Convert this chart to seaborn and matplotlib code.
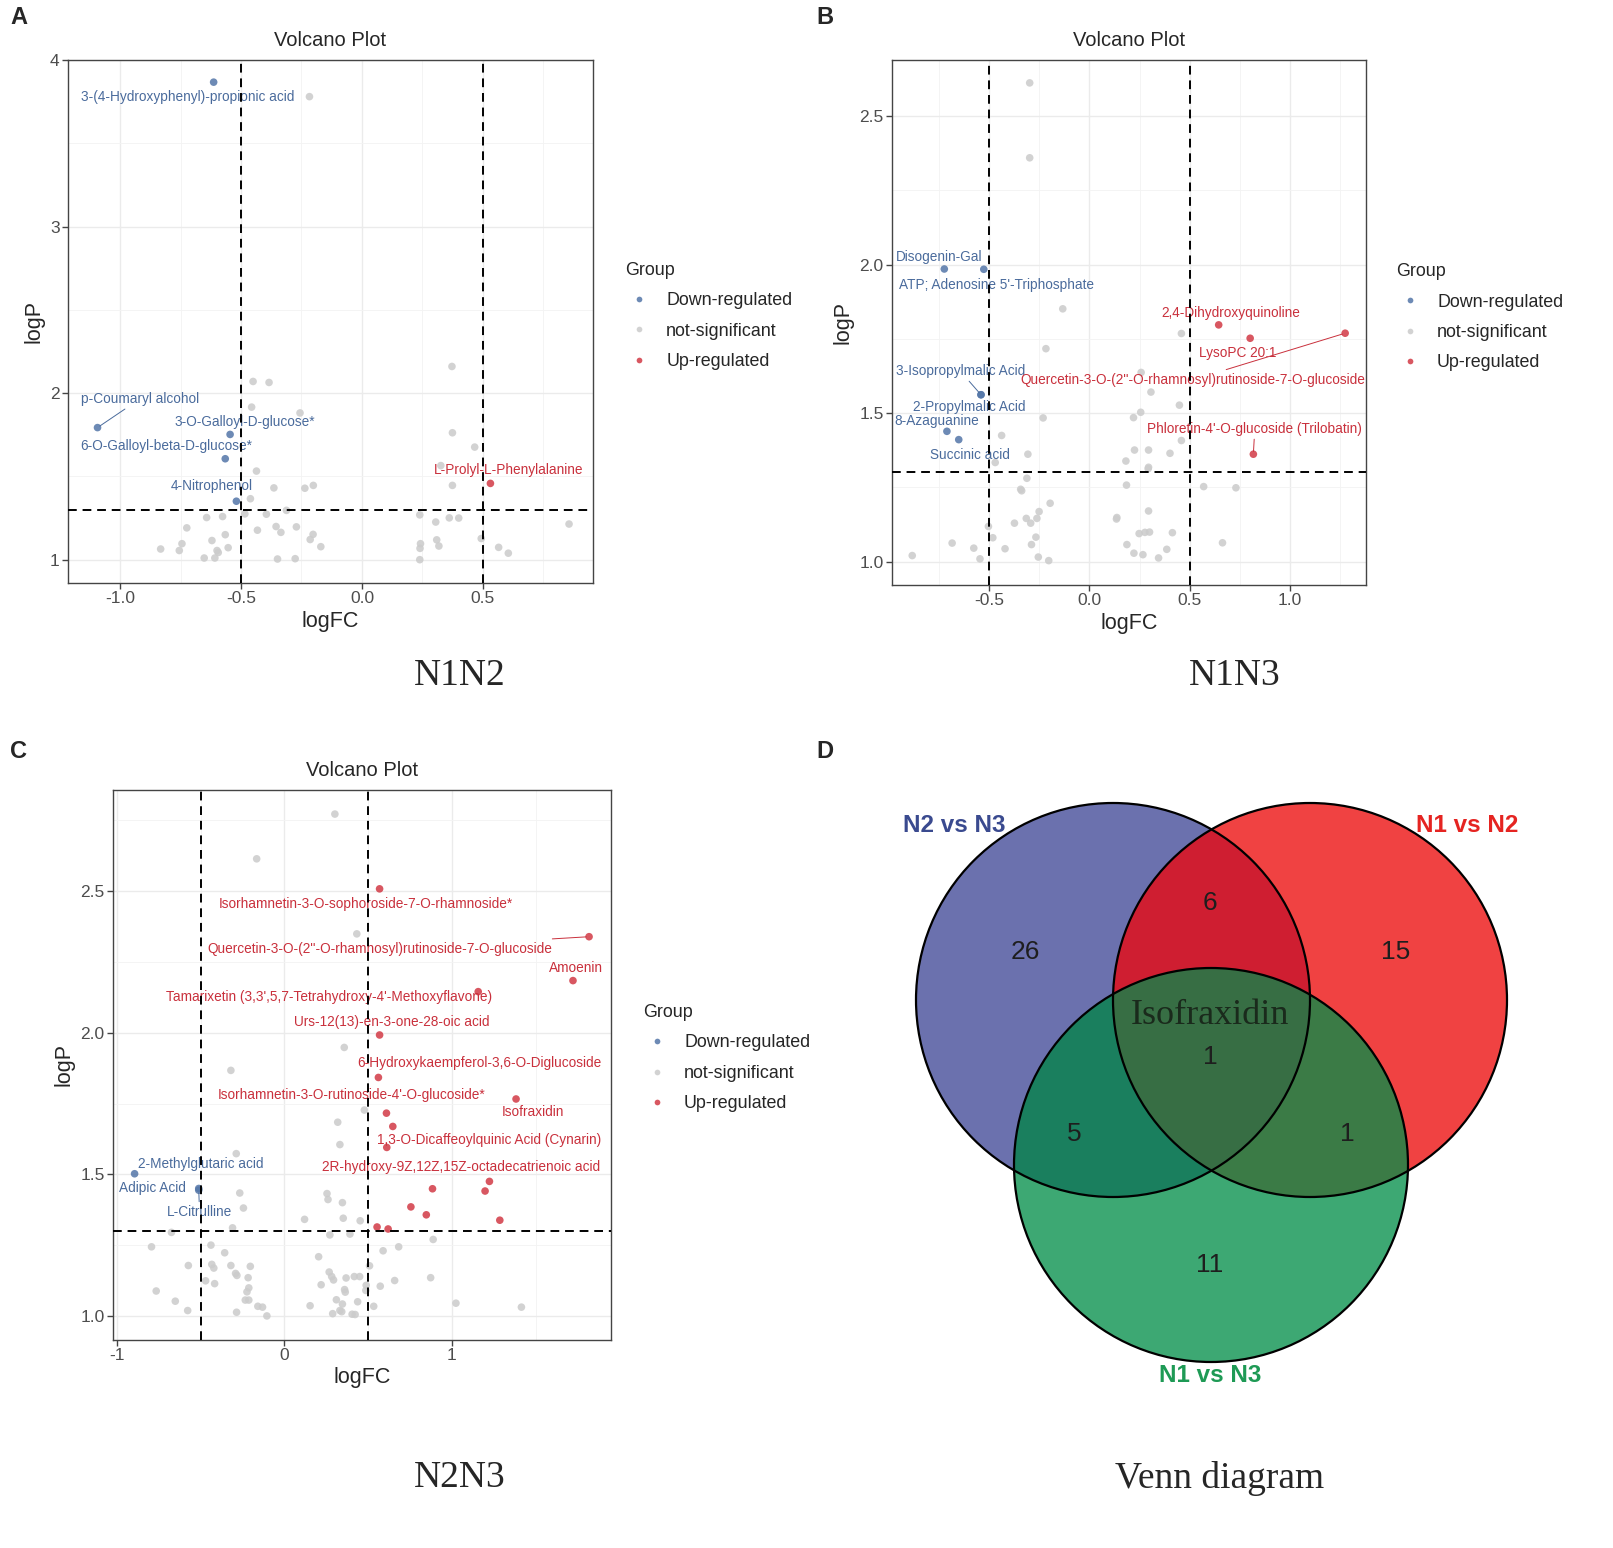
import numpy as np
import pandas as pd
import matplotlib
matplotlib.use("Agg")
import matplotlib.pyplot as plt
from matplotlib.patches import Circle
from matplotlib.colors import to_rgba
from matplotlib.ticker import AutoMinorLocator
import seaborn as sns

######################
## Data
######################

# A: N1 vs N2
a_down_names = ["3-(4-Hydroxyphenyl)-propionic acid", "p-Coumaryl alcohol", "3-O-Galloyl-D-glucose*",
                "6-O-Galloyl-beta-D-glucose*", "4-Nitrophenol"]
a_down_fc = [-0.613, -1.093, -0.545, -0.565, -0.519]
a_down_p = [3.867, 1.793, 1.752, 1.606, 1.351]
a_up_names = ["L-Prolyl-L-Phenylalanine"]
a_up_fc = [0.531]
a_up_p = [1.458]
a_ns_fc = [-0.217, 0.372, -0.450, -0.384, -0.456, -0.256, 0.374, 0.466, 0.326, -0.436, -0.364, -0.236,
           -0.201, 0.374, -0.461, -0.484, -0.395, -0.312, -0.642, -0.576, 0.239, 0.305, 0.361, 0.400,
           0.856, -0.724, -0.432, -0.355, -0.335, -0.271, -0.202, -0.565, -0.620, -0.744, -0.832, -0.755,
           -0.599, -0.553, -0.594, -0.652, -0.608, -0.349, -0.276, -0.214, -0.170, 0.242, 0.240, 0.239,
           0.309, 0.318, 0.493, 0.565, 0.605]
a_ns_p = [3.780, 2.160, 2.070, 2.064, 1.916, 1.881, 1.762, 1.676, 1.565, 1.532, 1.431, 1.429,
          1.446, 1.446, 1.366, 1.275, 1.273, 1.296, 1.253, 1.259, 1.269, 1.226, 1.251, 1.250,
          1.214, 1.191, 1.177, 1.199, 1.164, 1.197, 1.152, 1.150, 1.115, 1.096, 1.064, 1.055,
          1.055, 1.072, 1.043, 1.010, 1.010, 1.004, 1.006, 1.121, 1.078, 1.096, 1.068, 1.000,
          1.119, 1.082, 1.127, 1.074, 1.039]

# B: N1 vs N3
b_down_names = ["Disogenin-Gal", "ATP; Adenosine 5'-Triphosphate", "3-Isopropylmalic Acid",
                "2-Propylmalic Acid", "8-Azaguanine", "Succinic acid"]
b_down_fc = [-0.724, -0.527, -0.541, -0.541, -0.711, -0.652]
b_down_p = [1.985, 1.984, 1.562, 1.562, 1.439, 1.411]
b_up_names = ["2,4-Dihydroxyquinoline", "LysoPC 20:1",
              "Quercetin-3-O-(2''-O-rhamnosyl)rutinoside-7-O-glucoside",
              "Phloretin-4'-O-glucoside (Trilobatin)"]
b_up_fc = [0.645, 0.802, 1.276, 0.818]
b_up_p = [1.797, 1.752, 1.769, 1.362]
b_ns_fc = [-0.298, -0.298, -0.133, 0.459, -0.217, 0.258, 0.307, 0.449, 0.220, 0.256, -0.231, -0.438,
           0.459, -0.307, 0.225, 0.295, 0.402, 0.182, -0.470, 0.293, 0.295, -0.312, -0.343, -0.338,
           0.185, 0.570, 0.731, -0.196, -0.251, -0.315, -0.293, -0.262, -0.374, -0.504, 0.137, 0.135,
           0.295, -0.482, -0.685, -0.577, -0.546, -0.421, -0.267, -0.289, -0.255, -0.203, -0.884, 0.187,
           0.248, 0.277, 0.300, 0.414, 0.386, 0.222, 0.267, 0.345, 0.664]
b_ns_p = [2.611, 2.359, 1.851, 1.768, 1.717, 1.637, 1.571, 1.527, 1.485, 1.503, 1.484, 1.425,
          1.408, 1.362, 1.376, 1.376, 1.365, 1.339, 1.334, 1.313, 1.318, 1.281, 1.244, 1.239,
          1.258, 1.253, 1.249, 1.197, 1.169, 1.146, 1.130, 1.146, 1.130, 1.119, 1.149, 1.144,
          1.171, 1.081, 1.063, 1.046, 1.010, 1.044, 1.083, 1.058, 1.016, 1.004, 1.021, 1.058,
          1.095, 1.099, 1.100, 1.098, 1.042, 1.029, 1.024, 1.013, 1.064]

# C: N2 vs N3
c_down_names = ["2-Methylglutaric acid", "Adipic Acid", "L-Citrulline"]
c_down_fc = [-0.895, -0.512, -0.512]
c_down_p = [1.502, 1.450, 1.444]
c_up_names = ["Isorhamnetin-3-O-sophoroside-7-O-rhamnoside*",
              "Quercetin-3-O-(2''-O-rhamnosyl)rutinoside-7-O-glucoside", "Amoenin",
              "Tamarixetin (3,3',5,7-Tetrahydroxy-4'-Methoxyflavone)", "Urs-12(13)-en-3-one-28-oic acid",
              "6-Hydroxykaempferol-3,6-O-Diglucoside", "Isofraxidin",
              "Isorhamnetin-3-O-rutinoside-4'-O-glucoside*", "2R-hydroxy-9Z,12Z,15Z-octadecatrienoic acid",
              "1,3-O-Dicaffeoylquinic Acid (Cynarin)", "", "", "", "", "", "", "", ""]
c_up_fc = [0.568, 1.819, 1.723, 1.157, 0.568, 0.561, 1.383, 0.609, 0.647, 0.611,
           0.884, 1.224, 1.198, 0.755, 0.847, 1.286, 0.553, 0.619]
c_up_p = [2.508, 2.339, 2.184, 2.145, 1.992, 1.842, 1.766, 1.716, 1.669, 1.595,
          1.449, 1.475, 1.441, 1.385, 1.357, 1.338, 1.314, 1.307]
c_ns_fc = [0.301, -0.166, 0.432, 0.357, -0.320, 0.477, 0.318, 0.331, -0.288, -0.267, -0.245, -0.310,
           -0.675, -0.794, -0.439, -0.357, -0.574, -0.434, -0.422, -0.320, -0.292, -0.284, -0.204, -0.217,
           -0.471, -0.417, -0.213, -0.224, -0.766, -0.652, -0.234, -0.213, -0.578, -0.286, -0.159, -0.131,
           -0.105, 0.254, 0.260, 0.346, 0.120, 0.351, 0.452, 0.271, 0.391, 0.888, 0.589, 0.682,
           0.204, 0.508, 0.267, 0.282, 0.293, 0.368, 0.417, 0.449, 0.658, 0.873, 0.219, 0.359,
           0.363, 0.488, 0.486, 0.572, 0.310, 0.346, 0.437, 0.153, 0.533, 0.331, 0.342, 0.288,
           0.404, 0.422, 1.024, 1.415]
c_ns_p = [2.772, 2.614, 2.349, 1.948, 1.867, 1.727, 1.684, 1.605, 1.573, 1.434, 1.381, 1.311,
          1.295, 1.244, 1.250, 1.223, 1.178, 1.182, 1.169, 1.178, 1.150, 1.143, 1.175, 1.135,
          1.124, 1.114, 1.099, 1.085, 1.088, 1.052, 1.056, 1.056, 1.019, 1.013, 1.034, 1.031,
          1.000, 1.432, 1.411, 1.400, 1.341, 1.345, 1.336, 1.286, 1.289, 1.270, 1.230, 1.244,
          1.209, 1.177, 1.155, 1.139, 1.127, 1.134, 1.139, 1.139, 1.125, 1.135, 1.110, 1.093,
          1.084, 1.108, 1.090, 1.105, 1.057, 1.042, 1.050, 1.036, 1.034, 1.019, 1.015, 1.008,
          1.006, 1.005, 1.045, 1.031]

# D: Venn diagram
venn_sets = ["N2 vs N3", "N1 vs N2", "N1 vs N3"]
venn_regions = ["100", "010", "001", "110", "101", "011", "111"]
venn_counts = [26, 15, 11, 6, 5, 1, 1]
venn_shared = "Isofraxidin"

######################
## Layout (label placement, in data units)
######################

a_label_pos = {
    "3-(4-Hydroxyphenyl)-propionic acid": (-0.719, 3.777),
    "p-Coumaryl alcohol": (-0.917, 1.966),
    "3-O-Galloyl-D-glucose*": (-0.483, 1.828),
    "6-O-Galloyl-beta-D-glucose*": (-0.810, 1.684),
    "4-Nitrophenol": (-0.620, 1.444),
    "L-Prolyl-L-Phenylalanine": (0.607, 1.540),
}
a_segments = {"p-Coumaryl alcohol"}

b_label_pos = {
    "Disogenin-Gal": (-0.750, 2.026),
    "ATP; Adenosine 5'-Triphosphate": (-0.465, 1.932),
    "3-Isopropylmalic Acid": (-0.645, 1.642),
    "2-Propylmalic Acid": (-0.600, 1.520),
    "8-Azaguanine": (-0.760, 1.474),
    "Succinic acid": (-0.595, 1.360),
    "2,4-Dihydroxyquinoline": (0.705, 1.838),
    "LysoPC 20:1": (0.740, 1.703),
    "Quercetin-3-O-(2''-O-rhamnosyl)rutinoside-7-O-glucoside": (0.515, 1.612),
    "Phloretin-4'-O-glucoside (Trilobatin)": (0.825, 1.447),
}
b_segments = {"3-Isopropylmalic Acid", "Quercetin-3-O-(2''-O-rhamnosyl)rutinoside-7-O-glucoside",
              "Phloretin-4'-O-glucoside (Trilobatin)"}

c_label_pos = {
    "Isorhamnetin-3-O-sophoroside-7-O-rhamnoside*": (0.484, 2.454),
    "Quercetin-3-O-(2''-O-rhamnosyl)rutinoside-7-O-glucoside": (0.567, 2.295),
    "Amoenin": (1.743, 2.228),
    "Tamarixetin (3,3',5,7-Tetrahydroxy-4'-Methoxyflavone)": (0.269, 2.126),
    "Urs-12(13)-en-3-one-28-oic acid": (0.639, 2.038),
    "6-Hydroxykaempferol-3,6-O-Diglucoside": (1.164, 1.893),
    "Isorhamnetin-3-O-rutinoside-4'-O-glucoside*": (0.400, 1.780),
    "Isofraxidin": (1.481, 1.720),
    "1,3-O-Dicaffeoylquinic Acid (Cynarin)": (1.224, 1.621),
    "2R-hydroxy-9Z,12Z,15Z-octadecatrienoic acid": (1.057, 1.526),
    "2-Methylglutaric acid": (-0.501, 1.536),
    "Adipic Acid": (-0.788, 1.452),
    "L-Citrulline": (-0.507, 1.367),
}
c_segments = {"Quercetin-3-O-(2''-O-rhamnosyl)rutinoside-7-O-glucoside", "L-Citrulline"}

######################
## Style
######################

W, H = 1613, 1548
sns.set_theme(style="white")
plt.rcParams["font.family"] = ["Liberation Sans", "DejaVu Sans"]
plt.rcParams["axes.unicode_minus"] = False

GROUPS = ["Down-regulated", "not-significant", "Up-regulated"]
PALETTE = {"Down-regulated": "#5476A8", "not-significant": "#CBCBCB", "Up-regulated": "#D23A45"}
TEXT_COL = {"Down-regulated": "#4A6B9C", "Up-regulated": "#C9303C"}


def make_frame(dn, dfc, dp, un, ufc, up, nfc, npv):
    parts = [
        pd.DataFrame({"name": "", "logFC": nfc, "logP": npv, "Group": "not-significant"}),
        pd.DataFrame({"name": dn, "logFC": dfc, "logP": dp, "Group": "Down-regulated"}),
        pd.DataFrame({"name": un, "logFC": ufc, "logP": up, "Group": "Up-regulated"}),
    ]
    return pd.concat(parts, ignore_index=True)


def px_axes(fig, left, top, right, bottom):
    return fig.add_axes([left / W, 1 - bottom / H, (right - left) / W, (bottom - top) / H])


def volcano(ax, df, xlim, ylim, xticks, yticks, label_pos, segments, legend_x, legend_y):
    sns.scatterplot(data=df, x="logFC", y="logP", hue="Group", hue_order=GROUPS, palette=PALETTE,
                    s=30, linewidth=0, alpha=0.85, ax=ax, zorder=3)
    for _, r in df[df["name"] != ""].iterrows():
        tx, ty = label_pos[r["name"]]
        col = TEXT_COL[r["Group"]]
        if r["name"] in segments:
            ax.annotate(r["name"], xy=(r["logFC"], r["logP"]), xytext=(tx, ty), ha="center", va="center",
                        fontsize=9.8, color=col, zorder=4,
                        arrowprops=dict(arrowstyle="-", color=col, lw=0.7, shrinkA=0, shrinkB=2))
        else:
            ax.text(tx, ty, r["name"], ha="center", va="center", fontsize=9.8, color=col, zorder=4)
    dash = dict(color="black", lw=1.4, ls=(0, (4.5, 3)), zorder=5)
    ax.axvline(-0.5, **dash)
    ax.axvline(0.5, **dash)
    ax.axhline(-np.log10(0.05), **dash)

    ax.set_xlim(*xlim)
    ax.set_ylim(*ylim)
    ax.set_xticks(xticks)
    ax.set_xticklabels([f"{t}" for t in xticks])
    ax.set_yticks(yticks)
    ax.set_yticklabels([f"{t}" for t in yticks])
    ax.xaxis.set_minor_locator(AutoMinorLocator(2))
    ax.yaxis.set_minor_locator(AutoMinorLocator(2))
    ax.grid(which="major", color="#EBEBEB", lw=1.0)
    ax.grid(which="minor", color="#F3F3F3", lw=0.6)
    ax.set_axisbelow(True)
    for s in ax.spines.values():
        s.set_color("#444444")
        s.set_linewidth(1.0)
    ax.tick_params(which="major", bottom=True, left=True, length=4, width=1, color="#444444",
                   labelsize=12.5, labelcolor="#4D4D4D", pad=2)
    ax.tick_params(which="minor", length=0)
    ax.set_xlabel("logFC", fontsize=15.5, labelpad=3)
    ax.set_ylabel("logP", fontsize=15.5, labelpad=4)
    ax.set_title("Volcano Plot", fontsize=14.5, pad=10)
    sns.move_legend(ax, "upper left", bbox_to_anchor=(legend_x, legend_y), frameon=False, title="Group",
                    fontsize=12.9, title_fontsize=12.9, markerscale=0.75, handlelength=1.6,
                    handletextpad=0.7, labelspacing=0.75, borderpad=0, borderaxespad=0, alignment="left")


fig = plt.figure(figsize=(W / 100, H / 100), dpi=100)

ax_a = px_axes(fig, 68, 60, 593, 583)
df_a = make_frame(a_down_names, a_down_fc, a_down_p, a_up_names, a_up_fc, a_up_p, a_ns_fc, a_ns_p)
volcano(ax_a, df_a, (-1.215, 0.955), (0.86, 4.0), [-1.0, -0.5, 0.0, 0.5], [1, 2, 3, 4],
        a_label_pos, a_segments, 1.061, 0.614)

ax_b = px_axes(fig, 892, 60, 1366, 585)
df_b = make_frame(b_down_names, b_down_fc, b_down_p, b_up_names, b_up_fc, b_up_p, b_ns_fc, b_ns_p)
volcano(ax_b, df_b, (-0.985, 1.38), (0.922, 2.688), [-0.5, 0.0, 0.5, 1.0], [1.0, 1.5, 2.0, 2.5],
        b_label_pos, b_segments, 1.063, 0.613)

ax_c = px_axes(fig, 113, 790, 611, 1340)
df_c = make_frame(c_down_names, c_down_fc, c_down_p, c_up_names, c_up_fc, c_up_p, c_ns_fc, c_ns_p)
volcano(ax_c, df_c, (-1.024, 1.95), (0.915, 2.857), [-1, 0, 1], [1.0, 1.5, 2.0, 2.5],
        c_label_pos, c_segments, 1.064, 0.611)

######################
## Venn diagram
######################

vx0, vy0, vx1, vy1 = 880, 770, 1560, 1400
ax_d = px_axes(fig, vx0, vy0, vx1, vy1)
centres = [(1113, 1000), (1310, 1000), (1211, 1165)]
radius = 197
region_col = {"100": "#6B71AE", "010": "#F04242", "001": "#3DA873", "110": "#CF1E31",
              "101": "#1B7F5F", "011": "#3B7B46", "111": "#376E45"}
gx, gy = np.meshgrid(np.arange(vx0, vx1, 0.5) + 0.25, np.arange(vy0, vy1, 0.5) + 0.25)
inside = [((gx - cx) ** 2 + (gy - cy) ** 2 <= radius ** 2) for cx, cy in centres]
img = np.zeros(gx.shape + (4,))
for key, col in region_col.items():
    mask = np.ones(gx.shape, dtype=bool)
    for i, bit in enumerate(key):
        mask &= inside[i] if bit == "1" else ~inside[i]
    img[mask] = to_rgba(col)
ax_d.imshow(img, extent=(vx0, vx1, vy1, vy0), interpolation="antialiased", origin="upper")
for c in centres:
    ax_d.add_patch(Circle(c, radius, fill=False, ec="black", lw=1.6))
ax_d.set_xlim(vx0, vx1)
ax_d.set_ylim(vy1, vy0)
ax_d.axis("off")

count_pos = {"100": (1025, 952), "010": (1396, 952), "001": (1210, 1265), "110": (1210, 903),
             "101": (1074, 1134), "011": (1347, 1134), "111": (1210, 1057)}
for reg, n in zip(venn_regions, venn_counts):
    x, y = count_pos[reg]
    ax_d.text(x, y, str(n), ha="center", va="center", fontsize=19, color="#1E1E1E")
ax_d.text(1210, 1015, venn_shared, ha="center", va="center", fontsize=26, color="#1A2A1C",
          family=["Liberation Serif", "DejaVu Serif"])

set_pos = [(954, 825), (1467, 825), (1210, 1375)]
set_col = ["#3A4A8F", "#E52421", "#1E9A55"]
for name, (x, y), col in zip(venn_sets, set_pos, set_col):
    ax_d.text(x, y, name, ha="center", va="center", fontsize=17.5, fontweight="bold", color=col)

######################
## Figure texts
######################

for letter, (x, y) in zip("ABCD", [(10, 17), (816, 17), (10, 752), (816, 752)]):
    fig.text(x / W, 1 - y / H, letter, ha="left", va="center", fontsize=17, fontweight="bold")

captions = ["N1N2", "N1N3", "N2N3", "Venn diagram"]
for cap, (x, y) in zip(captions, [(460, 676), (1235, 676), (460, 1478), (1220, 1478)]):
    fig.text(x / W, 1 - y / H, cap, ha="center", va="center", fontsize=27,
             family=["Liberation Serif", "DejaVu Serif"])

fig.savefig("out.png", dpi=100)
